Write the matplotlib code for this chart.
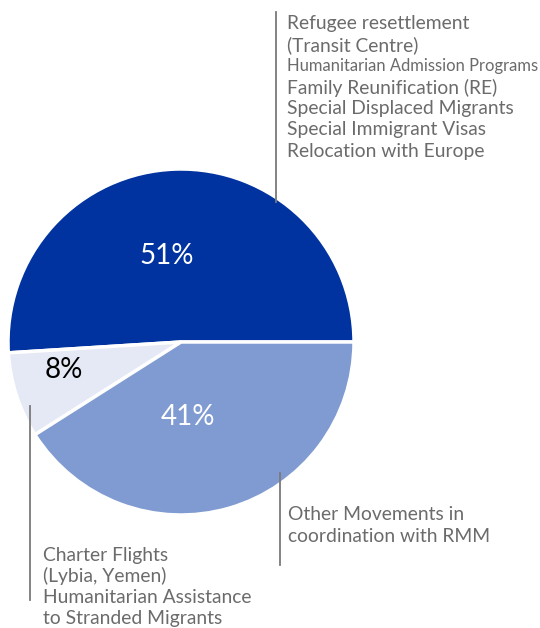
import matplotlib.pyplot as plt

plt.rcParams['font.family'] = ['Lato', 'DejaVu Sans']

shares = [51, 8, 41]
colors = ['#0033a0', '#e5e9f5', '#7f9bd1']
pct_colors = ['white', 'black', 'white']

top_lines = ['Refugee resettlement', '(Transit Centre)',
             'Humanitarian Admission Programs', 'Family Reunification (RE)',
             'Special Displaced Migrants', 'Special Immigrant Visas',
             'Relocation with Europe']
left_lines = ['Charter Flights', '(Lybia, Yemen)',
              'Humanitarian Assistance', 'to Stranded Migrants']
right_lines = ['Other Movements in', 'coordination with RMM']

W, H = 540, 628
fig = plt.figure(figsize=(W / 100, H / 100), dpi=100)
ax = fig.add_axes([0, 0, 1, 1])

cx, cy, r = 181, H - 342, 173
wedges, _ = ax.pie(shares, colors=colors, startangle=0, counterclock=True,
                   center=(cx, cy), radius=r, frame=True,
                   wedgeprops=dict(edgecolor='white', linewidth=2.5))
ax.set_xlim(0, W)
ax.set_ylim(0, H)
ax.set_aspect('equal')
ax.axis('off')

# percentage labels
pct_pos = [(167, 256), (64, 370), (188, 417)]
for s, (x, y), c in zip(shares, pct_pos, pct_colors):
    ax.text(x, H - y, f'{s}%', color=c, fontsize=20, ha='center', va='center')

grey = '#6b6b6b'
line_kw = dict(color='#7a7a7a', linewidth=1.3)
ax.plot([276, 276], [H - 12, H - 202], **line_kw)
ax.plot([30, 30], [H - 406, H - 600], **line_kw)
ax.plot([280, 280], [H - 473, H - 565], **line_kw)

fs = 13.9
for i, t in enumerate(top_lines):
    size = 11.9 if i == 2 else fs
    ax.text(287, H - 24 - i * 21.2, t, color=grey, fontsize=size,
            va='center', ha='left')
for i, t in enumerate(left_lines):
    ax.text(43, H - 555 - i * 21.3, t, color=grey, fontsize=fs,
            va='center', ha='left')
for i, t in enumerate(right_lines):
    ax.text(288, H - 515 - i * 21.5, t, color=grey, fontsize=fs,
            va='center', ha='left')

fig.savefig('out.png', dpi=100)
